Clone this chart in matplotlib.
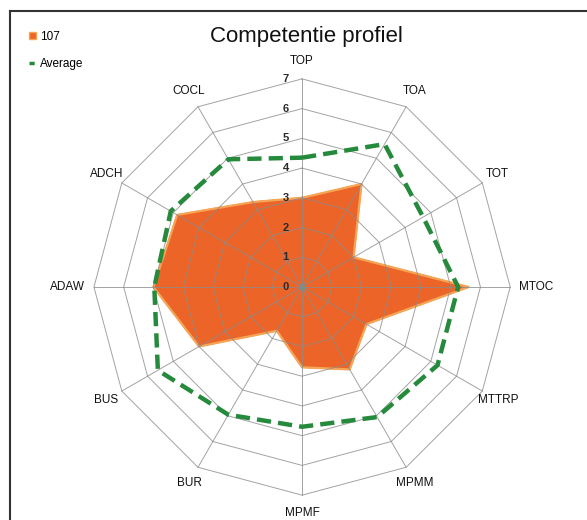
import matplotlib.pyplot as plt
import numpy as np
from matplotlib.lines import Line2D
from matplotlib.patches import Patch

plt.rcParams['font.family'] = ['Liberation Sans', 'DejaVu Sans']

# competenties, met de klok mee vanaf boven
labels = ["TOP", "TOA", "TOT", "MTOC", "MTTRP", "MPMM", "MPMF",
          "BUR", "BUS", "ADAW", "ADCH", "COCL"]
score_107 = [3.0, 4.0, 2.0, 5.6, 2.5, 3.2, 2.7, 1.7, 4.0, 5.0, 4.85, 3.3]
average = [4.35, 5.55, 4.7, 5.25, 5.26, 5.05, 4.7, 4.96, 5.6, 4.97, 5.1, 4.96]
levels = [0, 1, 2, 3, 4, 5, 6, 7]
rmax = 7

n = len(labels)
theta = np.arange(n) * 2 * np.pi / n

def xy(r):
    r = np.asarray(r, dtype=float)
    return r * np.sin(theta), r * np.cos(theta)

def closed(a):
    return np.append(a, a[0])

fig = plt.figure(figsize=(5.87, 5.2), dpi=100)
ax = fig.add_axes([0.1346, 0.0192, 0.760, 0.8577])
ax.set_xlim(-7.5, 7.5)
ax.set_ylim(-7.5, 7.5)
ax.set_aspect('equal')
ax.axis('off')

# oranje vlak
x1, y1 = xy(score_107)
ax.fill(closed(x1), closed(y1), color="#EC6428", zorder=1)
ax.plot(closed(x1), closed(y1), color="#F6A556", lw=1.6, zorder=1.5)

# veelhoekig raster
for lv in levels[1:]:
    gx, gy = xy([lv] * n)
    ax.plot(closed(gx), closed(gy), color="#8c8c8c", lw=0.7, alpha=0.8, zorder=2)
ox, oy = xy([rmax] * n)
for i in range(n):
    ax.plot([0, ox[i]], [0, oy[i]], color="#8c8c8c", lw=0.7, alpha=0.8, zorder=2)
ax.plot(0, 0, 'o', color="#7f8c88", ms=4, zorder=3)

# gemiddelde
x2, y2 = xy(average)
ax.plot(closed(x2), closed(y2), color="#258a3c", lw=3.2,
        dashes=(3.2, 1.6), zorder=4)

# schaal langs TOP
for lv in levels:
    ax.text(-0.55, lv, str(lv), ha='center', va='center', fontsize=8,
            fontweight='bold', color="#2a2a2a", zorder=5)

# labels rond de grafiek
for i, lab in enumerate(labels):
    s, c = np.sin(theta[i]), np.cos(theta[i])
    if abs(s) > 0.99:
        r = 7.3
        ha = 'left' if s > 0 else 'right'
    else:
        r = 7.6
        ha = 'center'
    ax.text(r * s, r * c, lab, ha=ha, va='center', fontsize=8.5, color="#111111")

fig.text(0.522, 0.930, "Competentie profiel", ha='center', va='center',
         fontsize=16, color="#111111")

handles = [Patch(facecolor="#EC6428", edgecolor="#F6A556"),
           Line2D([], [], color="#258a3c", lw=2.5, dashes=(1.5, 0.8))]
fig.legend(handles, ["107", "Average"], loc='upper left',
           bbox_to_anchor=(0.04, 0.952), frameon=False, fontsize=8.5,
           handlelength=0.6, handleheight=0.6, handletextpad=0.3,
           labelspacing=1.3, borderpad=0)

# kader
fig.add_artist(Line2D([0.017, 1.0], [0.979, 0.979], color="#333333", lw=1.5,
                      transform=fig.transFigure))
fig.add_artist(Line2D([0.017, 0.017], [0.0, 0.979], color="#333333", lw=1.5,
                      transform=fig.transFigure))

fig.savefig("out.png", dpi=100)
